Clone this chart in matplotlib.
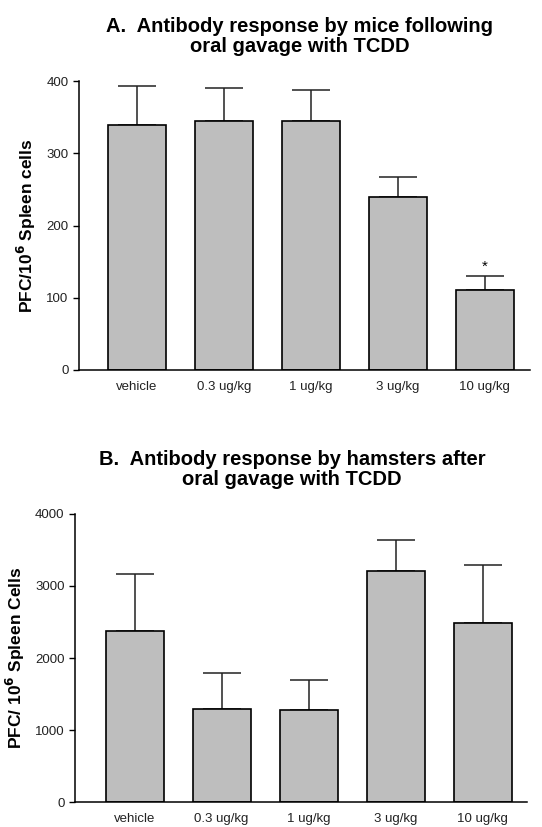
import matplotlib
matplotlib.use('Agg')
import matplotlib.pyplot as plt

doses = ['vehicle', '0.3 ug/kg', '1 ug/kg', '3 ug/kg', '10 ug/kg']
mice_mean = [339, 344, 344, 239, 111]
mice_err = [54, 46, 44, 28, 19]
hamster_mean = [2375, 1296, 1273, 3213, 2491]
hamster_err = [792, 491, 421, 421, 796]

plt.rcParams['font.family'] = ['Liberation Sans', 'DejaVu Sans']


def draw_panel(ax, means, errs, ylim, yticks, ylabel, title, tx):
    x = range(len(means))
    ax.bar(x, means, width=0.667, color='#bebebe', edgecolor='black', linewidth=1.2, zorder=2)
    ax.errorbar(x, means, yerr=[[0] * len(errs), errs], fmt='none', ecolor='#222222',
                elinewidth=1.1, capsize=14, capthick=1.1, zorder=1)
    ax.set_ylim(*ylim)
    ax.set_yticks(yticks)
    ax.set_xticks(list(x))
    ax.set_xticklabels(doses, fontsize=9.5, color='#222222')
    ax.tick_params(axis='x', length=0, pad=8)
    ax.tick_params(axis='y', direction='out', length=4, labelsize=9.5, width=1, labelcolor='#222222')
    for s in ['top', 'right']:
        ax.spines[s].set_visible(False)
    for s in ['left', 'bottom']:
        ax.spines[s].set_linewidth(1.1)
    ax.set_ylabel(ylabel, fontsize=12.5, fontweight='bold', labelpad=6)
    ax.set_title(title, fontsize=14.5, fontweight='bold', linespacing=1.05, pad=21, x=tx)


fig = plt.figure(figsize=(5.42, 8.27), dpi=100)

ax1 = fig.add_axes([0.1458, 0.5526, 0.832, 0.3494])
draw_panel(ax1, mice_mean, mice_err, (0, 400), [0, 100, 200, 300, 400],
           'PFC/10$^{\\mathbf{6}}$ Spleen cells',
           'A.  Antibody response by mice following\noral gavage with TCDD', 0.49)
ax1.set_xlim(-0.667, 4.52)
ax1.text(4, mice_mean[4] + mice_err[4] + 3, '*', ha='center', va='bottom', fontsize=11)

ax2 = fig.add_axes([0.1384, 0.0302, 0.834, 0.3483])
draw_panel(ax2, hamster_mean, hamster_err, (0, 4000), [0, 1000, 2000, 3000, 4000],
           'PFC/ 10$^{\\mathbf{6}}$ Spleen Cells',
           'B.  Antibody response by hamsters after\noral gavage with TCDD', 0.48)
ax2.set_xlim(-0.684, 4.51)

plt.savefig('out.png', dpi=100)
